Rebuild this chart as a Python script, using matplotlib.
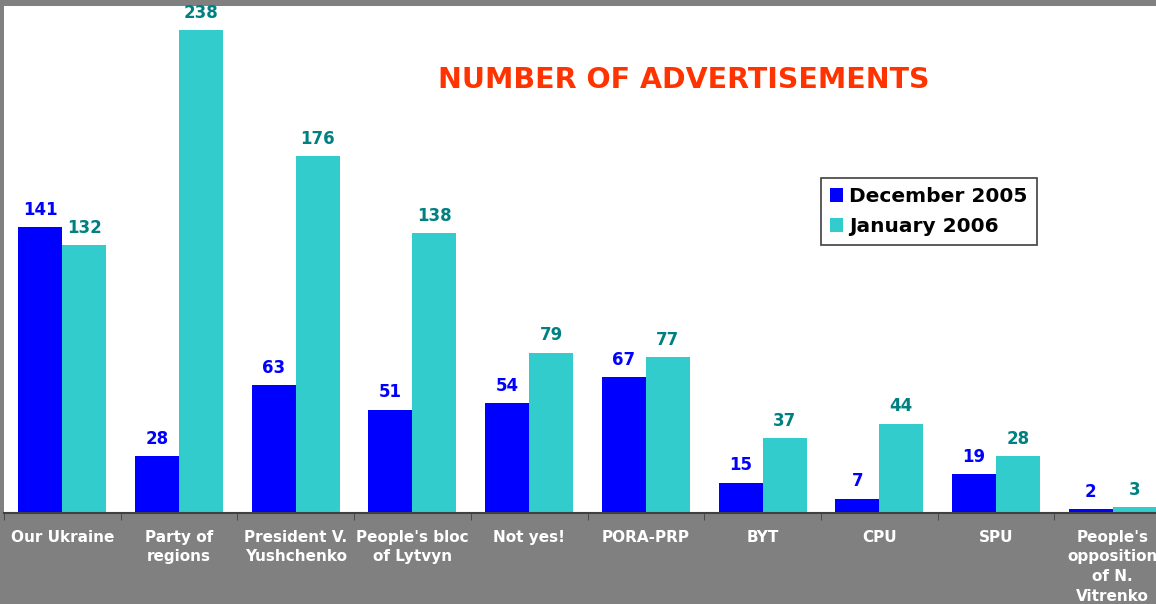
import matplotlib
matplotlib.use('Agg')
import matplotlib.pyplot as plt
import numpy as np

# данные
categories = ['Our Ukraine', 'Party of\nregions', 'President V.\nYushchenko', "People's bloc\nof Lytvyn",
              'Not yes!', 'PORA-PRP', 'BYT', 'CPU', 'SPU', "People's\nopposition\nof N.\nVitrenko"]
dec_2005 = [141, 28, 63, 51, 54, 67, 15, 7, 19, 2]
jan_2006 = [132, 238, 176, 138, 79, 77, 37, 44, 28, 3]

blue = '#0000FF'
cyan = '#33CCCC'

fig = plt.figure(figsize=(11.56, 6.04), dpi=100)
fig.patch.set_facecolor('#808080')
ax = fig.add_axes([4 / 1156, 1 - 513 / 604, 1167 / 1156, 507 / 604])
ax.set_facecolor('white')

x = np.arange(len(categories))
w = 0.377
b1 = ax.bar(x - w / 2, dec_2005, w, color=blue)
b2 = ax.bar(x + w / 2, jan_2006, w, color=cyan)

# подписи значений
for rect, v in zip(b1, dec_2005):
    ax.annotate(str(v), (rect.get_x() + rect.get_width() / 2, v), xytext=(0, 6),
                textcoords='offset points', ha='center', va='bottom',
                color=blue, fontsize=12, fontweight='bold')
for rect, v in zip(b2, jan_2006):
    ax.annotate(str(v), (rect.get_x() + rect.get_width() / 2, v), xytext=(0, 6),
                textcoords='offset points', ha='center', va='bottom',
                color='#008080', fontsize=12, fontweight='bold')

ax.set_xlim(-0.5, len(categories) - 0.5)
ax.set_ylim(0, 250)
ax.set_yticks([])
for s in ['left', 'top', 'right']:
    ax.spines[s].set_visible(False)
ax.spines['bottom'].set_color('#404040')
ax.spines['bottom'].set_linewidth(1.5)

ax.set_xticks(x)
ax.set_xticklabels(categories, color='white', fontsize=11, fontweight='bold', linespacing=1.4)
ax.tick_params(axis='x', which='major', length=0, pad=12)
ax.set_xticks(np.arange(len(categories) + 1) - 0.5, minor=True)
ax.tick_params(axis='x', which='minor', length=5, color='#404040', direction='out')

fig.text(684 / 1156, 1 - 80 / 604, 'NUMBER OF ADVERTISEMENTS', color='#FF3300',
         fontsize=20.5, fontweight='bold', ha='center', va='center')

leg = ax.legend([b1, b2], ['December 2005', 'January 2006'],
                loc='upper left', bbox_to_anchor=(821 / 1156, 1 - 178 / 604),
                bbox_transform=fig.transFigure, fancybox=False, framealpha=1,
                edgecolor='#404040', handlelength=0.65, handleheight=0.65,
                handletextpad=0.3, borderaxespad=0, borderpad=0.45, labelspacing=0.55,
                prop={'size': 14.5, 'weight': 'bold'})
leg.get_frame().set_linewidth(1.2)

plt.savefig('out.png', dpi=100, facecolor=fig.get_facecolor())
plt.close()
